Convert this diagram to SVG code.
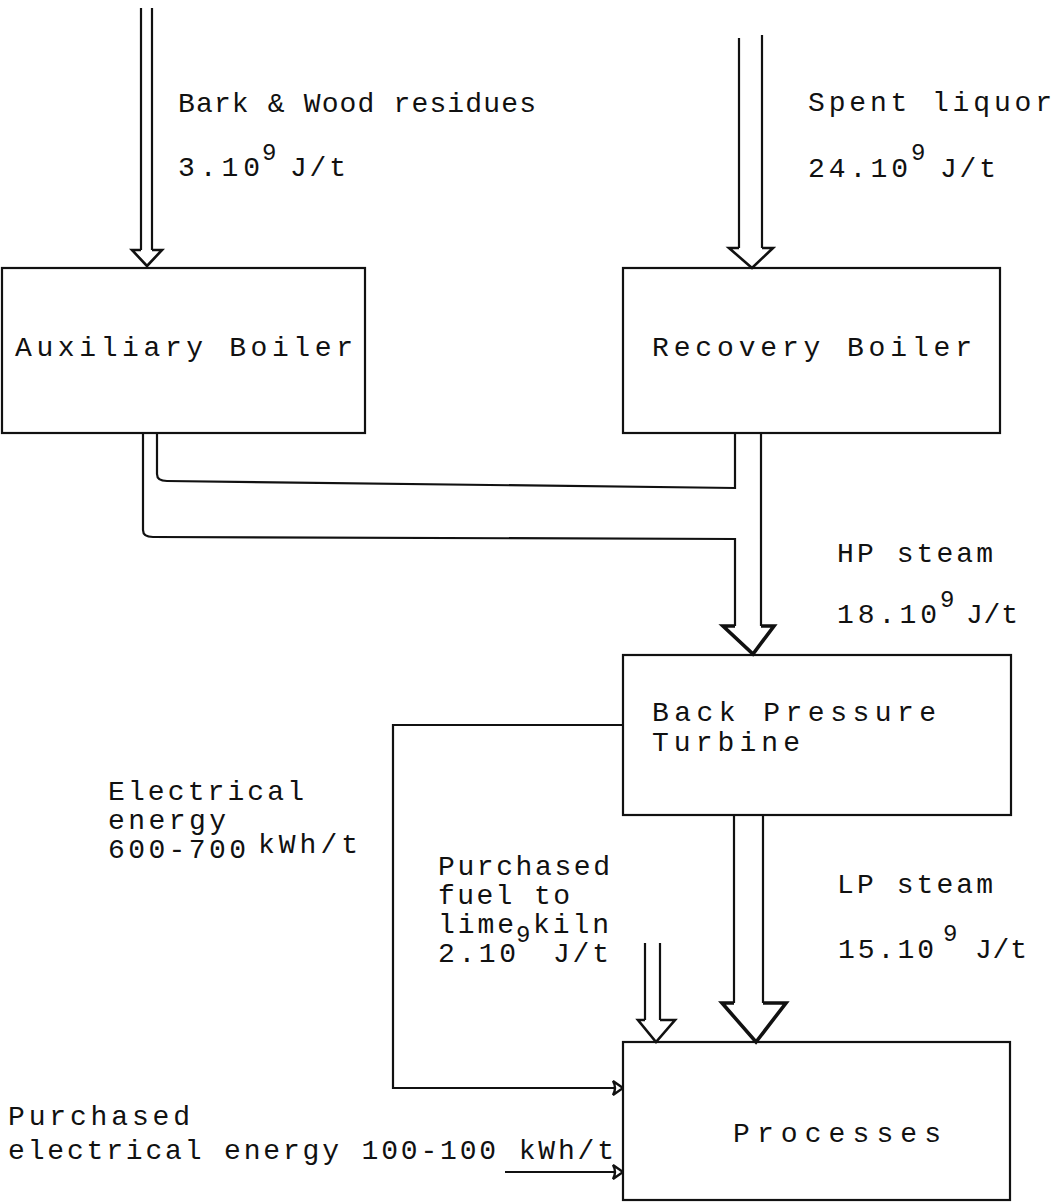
<svg xmlns="http://www.w3.org/2000/svg" width="1053" height="1203" viewBox="0 0 1053 1203">
<style>
text{font-family:"Liberation Mono","Courier New",monospace;font-size:28px;fill:#111}
.sup{font-size:24px}
.box{fill:none;stroke:#111;stroke-width:2.2}
.ln{fill:none;stroke:#111;stroke-width:2.2;stroke-linejoin:miter}
.hd{fill:none;stroke:#111;stroke-width:2.6;stroke-linejoin:miter}
.hd2{fill:none;stroke:#111;stroke-width:3.6;stroke-linejoin:miter}
</style>
<defs>
<marker id="oa" viewBox="0 0 14 18" refX="13" refY="9" markerWidth="14" markerHeight="18" markerUnits="userSpaceOnUse" orient="auto">
<path d="M3,2 L13,9 L3,16 Q7,9 3,2 Z" fill="#fff" stroke="#111" stroke-width="2.4"/>
</marker>
</defs>
<rect width="1053" height="1203" fill="#fff"/>
<g id="connectors">
<path class="ln" d="M141,8 L141,250 M152,8 L152,250"/>
<path class="hd" d="M141,250 L132,250 L147,266 L162,250 L152,250"/>
<path class="ln" d="M739,38 L739,248 M762,35 L762,248"/>
<path class="hd" d="M739,248 L729,248 L752,268 L773,248 L762,248"/>
<path class="ln" d="M157,433 L157,474 Q157,481 167,481 L735,488 L735,433"/>
<path class="ln" d="M143,433 L143,530 Q143,537 153,537 L735,539 L735,626 M761,433 L761,626"/>
<path class="hd2" d="M735,626 L723,626 L753,654 L774,626 L761,626"/>
<path class="ln" d="M734,815 L734,1003 M763,815 L763,1003"/>
<path class="hd2" d="M734,1003 L722,1003 L756,1042 L786,1003 L763,1003"/>
<path class="ln" d="M645,943 L645,1020 M660,943 L660,1020"/>
<path class="hd" d="M645,1020 L638,1020 L656,1042 L675,1020 L660,1020"/>
<path class="ln" d="M623,725 L393,725 L393,1088 L623,1088" marker-end="url(#oa)"/>
<path class="ln" d="M505,1172 L623,1172" marker-end="url(#oa)"/>
</g>
<g id="auxiliary-boiler">
<rect class="box" x="2" y="268" width="363" height="165"/>
<text x="15" y="356" textLength="338" lengthAdjust="spacing">Auxiliary Boiler</text>
</g>
<g id="recovery-boiler">
<rect class="box" x="623" y="268" width="377" height="165"/>
<text x="652" y="356" textLength="320" lengthAdjust="spacing">Recovery Boiler</text>
</g>
<g id="back-pressure-turbine">
<rect class="box" x="623" y="655" width="388" height="160"/>
<text x="652" y="721" textLength="284" lengthAdjust="spacing">Back Pressure</text>
<text x="652" y="751" textLength="148" lengthAdjust="spacing">Turbine</text>
</g>
<g id="processes">
<rect class="box" x="623" y="1042" width="387" height="158"/>
<text x="733" y="1142" textLength="208" lengthAdjust="spacing">Processes</text>
</g>
<g id="labels">
<text x="178" y="112" textLength="358" lengthAdjust="spacing">Bark &amp; Wood residues</text>
<text x="178" y="176" textLength="82" lengthAdjust="spacing">3.10</text>
<text class="sup" x="262" y="160">9</text>
<text x="290" y="176" textLength="56" lengthAdjust="spacing">J/t</text>
<text x="808" y="111" textLength="244" lengthAdjust="spacing">Spent liquor</text>
<text x="808" y="177" textLength="100" lengthAdjust="spacing">24.10</text>
<text class="sup" x="911" y="160">9</text>
<text x="940" y="177" textLength="56" lengthAdjust="spacing">J/t</text>
<text x="837" y="562" textLength="156" lengthAdjust="spacing">HP steam</text>
<text x="837" y="623" textLength="100" lengthAdjust="spacing">18.10</text>
<text class="sup" x="940" y="607">9</text>
<text x="966" y="623" textLength="52" lengthAdjust="spacing">J/t</text>
<text x="108" y="800" textLength="196" lengthAdjust="spacing">Electrical</text>
<text x="108" y="829" textLength="118" lengthAdjust="spacing">energy</text>
<text x="108" y="858" textLength="138" lengthAdjust="spacing">600-700</text>
<text x="258" y="853" textLength="100" lengthAdjust="spacing">kWh/t</text>
<text x="438" y="875" textLength="172" lengthAdjust="spacing">Purchased</text>
<text x="438" y="904" textLength="132" lengthAdjust="spacing">fuel to</text>
<text x="438" y="933" textLength="76" lengthAdjust="spacing">lime</text>
<text class="sup" x="516" y="942">9</text>
<text x="533" y="933" textLength="76" lengthAdjust="spacing">kiln</text>
<text x="438" y="962" textLength="78" lengthAdjust="spacing">2.10</text>
<text x="553" y="962" textLength="56" lengthAdjust="spacing">J/t</text>
<text x="837" y="893" textLength="156" lengthAdjust="spacing">LP steam</text>
<text x="838" y="958" textLength="96" lengthAdjust="spacing">15.10</text>
<text class="sup" x="943" y="941">9</text>
<text x="975" y="958" textLength="52" lengthAdjust="spacing">J/t</text>
<text x="8" y="1125" textLength="182" lengthAdjust="spacing">Purchased</text>
<text x="8" y="1159" textLength="606" lengthAdjust="spacing">electrical energy 100-100 kWh/t</text>
</g>
</svg>
